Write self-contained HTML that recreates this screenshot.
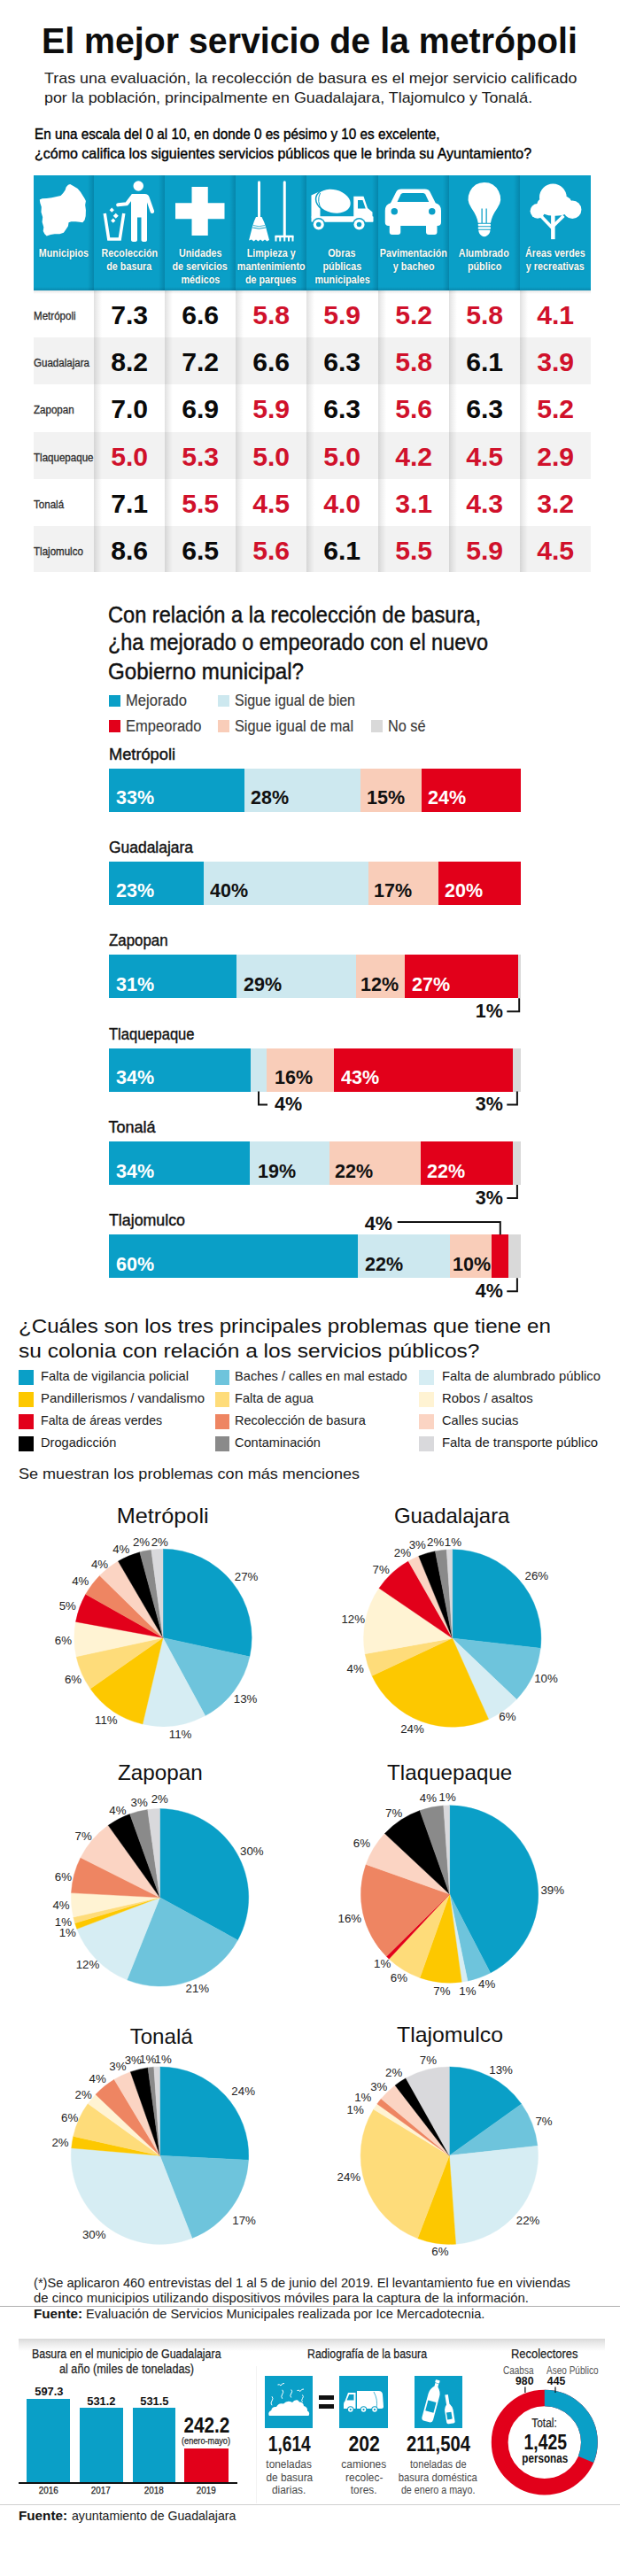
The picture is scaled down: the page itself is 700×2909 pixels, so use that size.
<!DOCTYPE html>
<html lang="es"><head><meta charset="utf-8"><title>El mejor servicio de la metrópoli</title>
<style>
html,body{margin:0;padding:0;background:#fff;}
body{width:700px;height:2909px;position:relative;overflow:hidden;font-family:"Liberation Sans",sans-serif;}
.t{position:absolute;white-space:nowrap;line-height:1;display:block;}
.r{position:absolute;}
svg{position:absolute;overflow:visible;}
</style></head><body>
<span class="t" style="left:47.00px;top:24px;font-size:40px;line-height:44px;color:#0d0d0d;font-weight:700;transform:scaleX(0.9822);transform-origin:0 0;">El mejor servicio de la metrópoli</span>
<span class="t" style="left:49.50px;top:79px;font-size:17px;line-height:19px;color:#1a1a1a;transform:scaleX(1.0513);transform-origin:0 0;">Tras una evaluación, la recolección de basura es el mejor servicio calificado</span>
<span class="t" style="left:49.50px;top:101px;font-size:17px;line-height:19px;color:#1a1a1a;transform:scaleX(1.0504);transform-origin:0 0;">por la población, principalmente en Guadalajara, Tlajomulco y Tonalá.</span>
<span class="t" style="left:39.00px;top:142px;font-size:17px;line-height:19px;color:#000;transform:scaleX(0.8982);transform-origin:0 0;-webkit-text-stroke:0.42px #000;">En una escala del 0 al 10, en donde 0 es pésimo y 10 es excelente,</span>
<span class="t" style="left:39.00px;top:164px;font-size:17px;line-height:19px;color:#000;transform:scaleX(0.9399);transform-origin:0 0;-webkit-text-stroke:0.42px #000;">¿cómo califica los siguientes servicios públicos que le brinda su Ayuntamiento?</span>
<div class="r" style="left:38.00px;top:198.00px;width:68.00px;height:129.50px;background:#0a9fc7;background:linear-gradient(to right,#0a9fc7 0,#0a9fc7 calc(100% - 7px),#0686ab 100%);"></div>
<div class="r" style="left:106.00px;top:198.00px;width:80.00px;height:129.50px;background:#0a9fc7;background:linear-gradient(to right,#0a9fc7 0,#0a9fc7 calc(100% - 7px),#0686ab 100%);"></div>
<div class="r" style="left:186.00px;top:198.00px;width:80.00px;height:129.50px;background:#0a9fc7;background:linear-gradient(to right,#0a9fc7 0,#0a9fc7 calc(100% - 7px),#0686ab 100%);"></div>
<div class="r" style="left:266.00px;top:198.00px;width:80.00px;height:129.50px;background:#0a9fc7;background:linear-gradient(to right,#0a9fc7 0,#0a9fc7 calc(100% - 7px),#0686ab 100%);"></div>
<div class="r" style="left:346.00px;top:198.00px;width:80.50px;height:129.50px;background:#0a9fc7;background:linear-gradient(to right,#0a9fc7 0,#0a9fc7 calc(100% - 7px),#0686ab 100%);"></div>
<div class="r" style="left:426.50px;top:198.00px;width:80.50px;height:129.50px;background:#0a9fc7;background:linear-gradient(to right,#0a9fc7 0,#0a9fc7 calc(100% - 7px),#0686ab 100%);"></div>
<div class="r" style="left:507.00px;top:198.00px;width:79.50px;height:129.50px;background:#0a9fc7;background:linear-gradient(to right,#0a9fc7 0,#0a9fc7 calc(100% - 7px),#0686ab 100%);"></div>
<div class="r" style="left:586.50px;top:198.00px;width:80.30px;height:129.50px;background:#0a9fc7;background:#0a9fc7;"></div>
<div class="r" style="left:38.00px;top:323.50px;width:628.80px;height:4.00px;background:transparent;background:linear-gradient(to bottom,rgba(0,60,90,0),rgba(0,60,90,.22));"></div>
<div class="r" style="left:38.00px;top:327.60px;width:628.80px;height:53.70px;background:#ffffff;"></div>
<div class="r" style="left:38.00px;top:381.30px;width:628.80px;height:53.20px;background:#f2f2f2;"></div>
<div class="r" style="left:38.00px;top:434.50px;width:628.80px;height:53.10px;background:#ffffff;"></div>
<div class="r" style="left:38.00px;top:487.60px;width:628.80px;height:53.20px;background:#f2f2f2;"></div>
<div class="r" style="left:38.00px;top:540.80px;width:628.80px;height:53.60px;background:#ffffff;"></div>
<div class="r" style="left:38.00px;top:594.40px;width:628.80px;height:52.00px;background:#f2f2f2;"></div>
<div class="r" style="left:106.00px;top:327.50px;width:9.00px;height:318.90px;background:transparent;background:linear-gradient(to right,rgba(0,0,0,.12),rgba(0,0,0,.07) 35%,rgba(0,0,0,0));"></div>
<div class="r" style="left:186.00px;top:327.50px;width:9.00px;height:318.90px;background:transparent;background:linear-gradient(to right,rgba(0,0,0,.12),rgba(0,0,0,.07) 35%,rgba(0,0,0,0));"></div>
<div class="r" style="left:266.00px;top:327.50px;width:9.00px;height:318.90px;background:transparent;background:linear-gradient(to right,rgba(0,0,0,.12),rgba(0,0,0,.07) 35%,rgba(0,0,0,0));"></div>
<div class="r" style="left:346.00px;top:327.50px;width:9.00px;height:318.90px;background:transparent;background:linear-gradient(to right,rgba(0,0,0,.12),rgba(0,0,0,.07) 35%,rgba(0,0,0,0));"></div>
<div class="r" style="left:426.50px;top:327.50px;width:9.00px;height:318.90px;background:transparent;background:linear-gradient(to right,rgba(0,0,0,.12),rgba(0,0,0,.07) 35%,rgba(0,0,0,0));"></div>
<div class="r" style="left:507.00px;top:327.50px;width:9.00px;height:318.90px;background:transparent;background:linear-gradient(to right,rgba(0,0,0,.12),rgba(0,0,0,.07) 35%,rgba(0,0,0,0));"></div>
<div class="r" style="left:586.50px;top:327.50px;width:9.00px;height:318.90px;background:transparent;background:linear-gradient(to right,rgba(0,0,0,.12),rgba(0,0,0,.07) 35%,rgba(0,0,0,0));"></div>
<div class="r" style="left:38.00px;top:327.50px;width:628.80px;height:4.00px;background:transparent;background:linear-gradient(to bottom,rgba(0,0,0,.10),rgba(0,0,0,0));"></div>
<span class="t" style="left:38.06px;top:278px;font-size:13px;line-height:15px;color:#fffdf5;font-weight:700;transform:scaleX(0.8300);transform-origin:50% 0;text-shadow:0 0 1.5px rgba(0,70,100,.55);">Municipios</span>
<span class="t" style="left:107.71px;top:278px;font-size:13px;line-height:15px;color:#fffdf5;font-weight:700;transform:scaleX(0.8300);transform-origin:50% 0;text-shadow:0 0 1.5px rgba(0,70,100,.55);">Recolección</span>
<span class="t" style="left:115.30px;top:293px;font-size:13px;line-height:15px;color:#fffdf5;font-weight:700;transform:scaleX(0.8300);transform-origin:50% 0;text-shadow:0 0 1.5px rgba(0,70,100,.55);">de basura</span>
<span class="t" style="left:196.75px;top:278px;font-size:13px;line-height:15px;color:#fffdf5;font-weight:700;transform:scaleX(0.8300);transform-origin:50% 0;text-shadow:0 0 1.5px rgba(0,70,100,.55);">Unidades</span>
<span class="t" style="left:188.42px;top:293px;font-size:13px;line-height:15px;color:#fffdf5;font-weight:700;transform:scaleX(0.8300);transform-origin:50% 0;text-shadow:0 0 1.5px rgba(0,70,100,.55);">de servicios</span>
<span class="t" style="left:199.63px;top:308px;font-size:13px;line-height:15px;color:#fffdf5;font-weight:700;transform:scaleX(0.8300);transform-origin:50% 0;text-shadow:0 0 1.5px rgba(0,70,100,.55);">médicos</span>
<span class="t" style="left:272.77px;top:278px;font-size:13px;line-height:15px;color:#fffdf5;font-weight:700;transform:scaleX(0.8300);transform-origin:50% 0;text-shadow:0 0 1.5px rgba(0,70,100,.55);">Limpieza y</span>
<span class="t" style="left:259.78px;top:293px;font-size:13px;line-height:15px;color:#fffdf5;font-weight:700;transform:scaleX(0.8300);transform-origin:50% 0;text-shadow:0 0 1.5px rgba(0,70,100,.55);">mantenimiento</span>
<span class="t" style="left:271.33px;top:308px;font-size:13px;line-height:15px;color:#fffdf5;font-weight:700;transform:scaleX(0.8300);transform-origin:50% 0;text-shadow:0 0 1.5px rgba(0,70,100,.55);">de parques</span>
<span class="t" style="left:367.46px;top:278px;font-size:13px;line-height:15px;color:#fffdf5;font-weight:700;transform:scaleX(0.8300);transform-origin:50% 0;text-shadow:0 0 1.5px rgba(0,70,100,.55);">Obras</span>
<span class="t" style="left:359.88px;top:293px;font-size:13px;line-height:15px;color:#fffdf5;font-weight:700;transform:scaleX(0.8300);transform-origin:50% 0;text-shadow:0 0 1.5px rgba(0,70,100,.55);">públicas</span>
<span class="t" style="left:348.68px;top:308px;font-size:13px;line-height:15px;color:#fffdf5;font-weight:700;transform:scaleX(0.8300);transform-origin:50% 0;text-shadow:0 0 1.5px rgba(0,70,100,.55);">municipales</span>
<span class="t" style="left:420.88px;top:278px;font-size:13px;line-height:15px;color:#fffdf5;font-weight:700;transform:scaleX(0.8300);transform-origin:50% 0;text-shadow:0 0 1.5px rgba(0,70,100,.55);">Pavimentación</span>
<span class="t" style="left:438.58px;top:293px;font-size:13px;line-height:15px;color:#fffdf5;font-weight:700;transform:scaleX(0.8300);transform-origin:50% 0;text-shadow:0 0 1.5px rgba(0,70,100,.55);">y bacheo</span>
<span class="t" style="left:512.45px;top:278px;font-size:13px;line-height:15px;color:#fffdf5;font-weight:700;transform:scaleX(0.8300);transform-origin:50% 0;text-shadow:0 0 1.5px rgba(0,70,100,.55);">Alumbrado</span>
<span class="t" style="left:523.64px;top:293px;font-size:13px;line-height:15px;color:#fffdf5;font-weight:700;transform:scaleX(0.8300);transform-origin:50% 0;text-shadow:0 0 1.5px rgba(0,70,100,.55);">público</span>
<span class="t" style="left:585.82px;top:278px;font-size:13px;line-height:15px;color:#fffdf5;font-weight:700;transform:scaleX(0.8300);transform-origin:50% 0;text-shadow:0 0 1.5px rgba(0,70,100,.55);">Áreas verdes</span>
<span class="t" style="left:586.90px;top:293px;font-size:13px;line-height:15px;color:#fffdf5;font-weight:700;transform:scaleX(0.8300);transform-origin:50% 0;text-shadow:0 0 1.5px rgba(0,70,100,.55);">y recreativas</span>
<span class="t" style="left:38.00px;top:350px;font-size:12.5px;line-height:14px;color:#2a2a2a;transform:scaleX(0.9250);transform-origin:0 0;-webkit-text-stroke:0.3px #2a2a2a;">Metrópoli</span>
<span class="t" style="left:125.84px;top:340px;font-size:29px;line-height:32px;color:#0a0a0a;font-weight:700;transform:scaleX(1.0400);transform-origin:50% 0;">7.3</span>
<span class="t" style="left:205.84px;top:340px;font-size:29px;line-height:32px;color:#0a0a0a;font-weight:700;transform:scaleX(1.0400);transform-origin:50% 0;">6.6</span>
<span class="t" style="left:285.85px;top:340px;font-size:29px;line-height:32px;color:#d0112b;font-weight:700;transform:scaleX(1.0400);transform-origin:50% 0;">5.8</span>
<span class="t" style="left:366.10px;top:340px;font-size:29px;line-height:32px;color:#d0112b;font-weight:700;transform:scaleX(1.0400);transform-origin:50% 0;">5.9</span>
<span class="t" style="left:446.60px;top:340px;font-size:29px;line-height:32px;color:#d0112b;font-weight:700;transform:scaleX(1.0400);transform-origin:50% 0;">5.2</span>
<span class="t" style="left:526.60px;top:340px;font-size:29px;line-height:32px;color:#d0112b;font-weight:700;transform:scaleX(1.0400);transform-origin:50% 0;">5.8</span>
<span class="t" style="left:606.50px;top:340px;font-size:29px;line-height:32px;color:#d0112b;font-weight:700;transform:scaleX(1.0400);transform-origin:50% 0;">4.1</span>
<span class="t" style="left:38.00px;top:403px;font-size:12.5px;line-height:14px;color:#2a2a2a;transform:scaleX(0.9250);transform-origin:0 0;-webkit-text-stroke:0.3px #2a2a2a;">Guadalajara</span>
<span class="t" style="left:125.84px;top:393px;font-size:29px;line-height:32px;color:#0a0a0a;font-weight:700;transform:scaleX(1.0400);transform-origin:50% 0;">8.2</span>
<span class="t" style="left:205.84px;top:393px;font-size:29px;line-height:32px;color:#0a0a0a;font-weight:700;transform:scaleX(1.0400);transform-origin:50% 0;">7.2</span>
<span class="t" style="left:285.85px;top:393px;font-size:29px;line-height:32px;color:#0a0a0a;font-weight:700;transform:scaleX(1.0400);transform-origin:50% 0;">6.6</span>
<span class="t" style="left:366.10px;top:393px;font-size:29px;line-height:32px;color:#0a0a0a;font-weight:700;transform:scaleX(1.0400);transform-origin:50% 0;">6.3</span>
<span class="t" style="left:446.60px;top:393px;font-size:29px;line-height:32px;color:#d0112b;font-weight:700;transform:scaleX(1.0400);transform-origin:50% 0;">5.8</span>
<span class="t" style="left:526.60px;top:393px;font-size:29px;line-height:32px;color:#0a0a0a;font-weight:700;transform:scaleX(1.0400);transform-origin:50% 0;">6.1</span>
<span class="t" style="left:606.50px;top:393px;font-size:29px;line-height:32px;color:#d0112b;font-weight:700;transform:scaleX(1.0400);transform-origin:50% 0;">3.9</span>
<span class="t" style="left:38.00px;top:456px;font-size:12.5px;line-height:14px;color:#2a2a2a;transform:scaleX(0.9250);transform-origin:0 0;-webkit-text-stroke:0.3px #2a2a2a;">Zapopan</span>
<span class="t" style="left:125.84px;top:446px;font-size:29px;line-height:32px;color:#0a0a0a;font-weight:700;transform:scaleX(1.0400);transform-origin:50% 0;">7.0</span>
<span class="t" style="left:205.84px;top:446px;font-size:29px;line-height:32px;color:#0a0a0a;font-weight:700;transform:scaleX(1.0400);transform-origin:50% 0;">6.9</span>
<span class="t" style="left:285.85px;top:446px;font-size:29px;line-height:32px;color:#d0112b;font-weight:700;transform:scaleX(1.0400);transform-origin:50% 0;">5.9</span>
<span class="t" style="left:366.10px;top:446px;font-size:29px;line-height:32px;color:#0a0a0a;font-weight:700;transform:scaleX(1.0400);transform-origin:50% 0;">6.3</span>
<span class="t" style="left:446.60px;top:446px;font-size:29px;line-height:32px;color:#d0112b;font-weight:700;transform:scaleX(1.0400);transform-origin:50% 0;">5.6</span>
<span class="t" style="left:526.60px;top:446px;font-size:29px;line-height:32px;color:#0a0a0a;font-weight:700;transform:scaleX(1.0400);transform-origin:50% 0;">6.3</span>
<span class="t" style="left:606.50px;top:446px;font-size:29px;line-height:32px;color:#d0112b;font-weight:700;transform:scaleX(1.0400);transform-origin:50% 0;">5.2</span>
<span class="t" style="left:38.00px;top:510px;font-size:12.5px;line-height:14px;color:#2a2a2a;transform:scaleX(0.9250);transform-origin:0 0;-webkit-text-stroke:0.3px #2a2a2a;">Tlaquepaque</span>
<span class="t" style="left:125.84px;top:500px;font-size:29px;line-height:32px;color:#d0112b;font-weight:700;transform:scaleX(1.0400);transform-origin:50% 0;">5.0</span>
<span class="t" style="left:205.84px;top:500px;font-size:29px;line-height:32px;color:#d0112b;font-weight:700;transform:scaleX(1.0400);transform-origin:50% 0;">5.3</span>
<span class="t" style="left:285.85px;top:500px;font-size:29px;line-height:32px;color:#d0112b;font-weight:700;transform:scaleX(1.0400);transform-origin:50% 0;">5.0</span>
<span class="t" style="left:366.10px;top:500px;font-size:29px;line-height:32px;color:#d0112b;font-weight:700;transform:scaleX(1.0400);transform-origin:50% 0;">5.0</span>
<span class="t" style="left:446.60px;top:500px;font-size:29px;line-height:32px;color:#d0112b;font-weight:700;transform:scaleX(1.0400);transform-origin:50% 0;">4.2</span>
<span class="t" style="left:526.60px;top:500px;font-size:29px;line-height:32px;color:#d0112b;font-weight:700;transform:scaleX(1.0400);transform-origin:50% 0;">4.5</span>
<span class="t" style="left:606.50px;top:500px;font-size:29px;line-height:32px;color:#d0112b;font-weight:700;transform:scaleX(1.0400);transform-origin:50% 0;">2.9</span>
<span class="t" style="left:38.00px;top:563px;font-size:12.5px;line-height:14px;color:#2a2a2a;transform:scaleX(0.9250);transform-origin:0 0;-webkit-text-stroke:0.3px #2a2a2a;">Tonalá</span>
<span class="t" style="left:125.84px;top:553px;font-size:29px;line-height:32px;color:#0a0a0a;font-weight:700;transform:scaleX(1.0400);transform-origin:50% 0;">7.1</span>
<span class="t" style="left:205.84px;top:553px;font-size:29px;line-height:32px;color:#d0112b;font-weight:700;transform:scaleX(1.0400);transform-origin:50% 0;">5.5</span>
<span class="t" style="left:285.85px;top:553px;font-size:29px;line-height:32px;color:#d0112b;font-weight:700;transform:scaleX(1.0400);transform-origin:50% 0;">4.5</span>
<span class="t" style="left:366.10px;top:553px;font-size:29px;line-height:32px;color:#d0112b;font-weight:700;transform:scaleX(1.0400);transform-origin:50% 0;">4.0</span>
<span class="t" style="left:446.60px;top:553px;font-size:29px;line-height:32px;color:#d0112b;font-weight:700;transform:scaleX(1.0400);transform-origin:50% 0;">3.1</span>
<span class="t" style="left:526.60px;top:553px;font-size:29px;line-height:32px;color:#d0112b;font-weight:700;transform:scaleX(1.0400);transform-origin:50% 0;">4.3</span>
<span class="t" style="left:606.50px;top:553px;font-size:29px;line-height:32px;color:#d0112b;font-weight:700;transform:scaleX(1.0400);transform-origin:50% 0;">3.2</span>
<span class="t" style="left:38.00px;top:616px;font-size:12.5px;line-height:14px;color:#2a2a2a;transform:scaleX(0.9250);transform-origin:0 0;-webkit-text-stroke:0.3px #2a2a2a;">Tlajomulco</span>
<span class="t" style="left:125.84px;top:606px;font-size:29px;line-height:32px;color:#0a0a0a;font-weight:700;transform:scaleX(1.0400);transform-origin:50% 0;">8.6</span>
<span class="t" style="left:205.84px;top:606px;font-size:29px;line-height:32px;color:#0a0a0a;font-weight:700;transform:scaleX(1.0400);transform-origin:50% 0;">6.5</span>
<span class="t" style="left:285.85px;top:606px;font-size:29px;line-height:32px;color:#d0112b;font-weight:700;transform:scaleX(1.0400);transform-origin:50% 0;">5.6</span>
<span class="t" style="left:366.10px;top:606px;font-size:29px;line-height:32px;color:#0a0a0a;font-weight:700;transform:scaleX(1.0400);transform-origin:50% 0;">6.1</span>
<span class="t" style="left:446.60px;top:606px;font-size:29px;line-height:32px;color:#d0112b;font-weight:700;transform:scaleX(1.0400);transform-origin:50% 0;">5.5</span>
<span class="t" style="left:526.60px;top:606px;font-size:29px;line-height:32px;color:#d0112b;font-weight:700;transform:scaleX(1.0400);transform-origin:50% 0;">5.9</span>
<span class="t" style="left:606.50px;top:606px;font-size:29px;line-height:32px;color:#d0112b;font-weight:700;transform:scaleX(1.0400);transform-origin:50% 0;">4.5</span>
<svg style="left:0;top:0" width="700" height="2909" viewBox="0 0 700 2909"><g transform="translate(38,200) scale(0.11290322580645161)" fill="#fff" stroke="none"><polygon points="365,70 400,90 440,115 470,150 495,190 510,215 522,240 515,280 522,330 520,390 510,430 490,455 460,450 420,445 375,445 350,455 345,490 325,520 300,555 260,570 210,570 170,575 130,590 110,570 95,540 100,500 85,450 90,400 75,350 78,300 65,260 60,225 85,215 130,212 180,205 230,195 270,185 295,160 315,130 325,100 345,78"/></g></svg>
<svg style="left:0;top:0" width="700" height="2909" viewBox="0 0 700 2909"><g transform="translate(36,198) scale(0.25)" fill="#fff" stroke="none"><circle cx="481" cy="48" r="23"/>
<path d="M452,84 H510 Q526,84 530,98 L552,160 Q554,170 546,172 Q538,174 535,166 L520,122 V292 Q520,300 508,300 Q494,300 494,292 V190 H476 V292 Q476,300 462,300 Q448,300 448,292 V96 Q448,84 452,84 Z"/>
<path d="M453,96 L428,129 L389,133" fill="none" stroke="#fff" stroke-width="17" stroke-linecap="round" stroke-linejoin="round"/>
<path d="M329,172 L347,288 H397 L415,172" fill="none" stroke="#fff" stroke-width="14" stroke-linejoin="miter"/>
<rect x="354" y="149" width="15" height="15" transform="rotate(45 361 156)"/>
<rect x="371" y="174" width="17" height="17" transform="rotate(45 379 182)"/>
<rect x="360" y="197" width="15" height="15" transform="rotate(45 367 204)"/></g></svg>
<svg style="left:0;top:0" width="700" height="2909" viewBox="0 0 700 2909"><g transform="translate(186,198) scale(0.25)" fill="#fff" stroke="none"><rect x="48" y="125" width="222" height="72"/><rect x="122" y="52" width="73" height="220"/></g></svg>
<svg style="left:0;top:0" width="700" height="2909" viewBox="0 0 700 2909"><g transform="translate(186,198) scale(0.25)" fill="#fff" stroke="none"><rect x="420" y="25" width="12" height="170" rx="6"/>
<path d="M412,188 H438 Q452,215 458,240 L472,292 L462,298 L452,290 L442,298 L432,290 L422,298 L412,290 L402,298 L392,290 L380,294 L394,240 Q400,212 412,188 Z"/>
<path d="M397,236 Q425,246 456,236" fill="none" stroke="#0a9fc7" stroke-width="4"/>
<path d="M399,226 Q425,236 453,226" fill="none" stroke="#0a9fc7" stroke-width="3"/>
<rect x="535" y="25" width="12" height="252" rx="6"/>
<rect x="498" y="271" width="84" height="10"/>
<rect x="498" y="275" width="8" height="23"/><rect x="517" y="275" width="8" height="23"/><rect x="537" y="275" width="8" height="23"/><rect x="556" y="275" width="8" height="23"/><rect x="574" y="275" width="8" height="23"/></g></svg>
<svg style="left:0;top:0" width="700" height="2909" viewBox="0 0 700 2909"><g transform="translate(346,198) scale(0.25)" fill="#fff" stroke="none"><polygon points="22,90 62,72 62,190 22,190"/>
<rect x="22" y="185" width="280" height="26" rx="3"/>
<path d="M213,95 H258 L276,148 L298,166 V196 H213 Z"/>
<path d="M232,112 H254 L267,150 H232 Z" fill="#0a9fc7"/>
<ellipse cx="122" cy="117" rx="84" ry="58" transform="rotate(13 122 117)" fill="#0a9fc7"/>
<ellipse cx="122" cy="117" rx="78" ry="52" transform="rotate(13 122 117)"/>
<path d="M62,80 Q44,118 70,156" fill="none" stroke="#0a9fc7" stroke-width="4"/>
<circle cx="55" cy="222" r="30" fill="#0a9fc7"/><circle cx="55" cy="222" r="24"/><circle cx="55" cy="222" r="11" fill="#0a9fc7"/>
<circle cx="238" cy="222" r="30" fill="#0a9fc7"/><circle cx="238" cy="222" r="24"/><circle cx="238" cy="222" r="11" fill="#0a9fc7"/></g></svg>
<svg style="left:0;top:0" width="700" height="2909" viewBox="0 0 700 2909"><g transform="translate(346,198) scale(0.25)" fill="#fff" stroke="none"><path d="M380,125 L405,75 Q412,62 428,62 H535 Q551,62 558,75 L583,125 Q608,132 608,160 V212 Q608,228 592,228 H371 Q355,228 355,212 V160 Q355,132 380,125 Z"/>
<path d="M410,120 L426,86 Q429,80 436,80 H527 Q534,80 537,86 L553,120 Z" fill="#0a9fc7"/>
<circle cx="397" cy="163" r="15" fill="#0a9fc7"/><circle cx="567" cy="163" r="15" fill="#0a9fc7"/>
<rect x="375" y="215" width="50" height="53" rx="12"/><rect x="540" y="215" width="50" height="53" rx="12"/></g></svg>
<svg style="left:0;top:0" width="700" height="2909" viewBox="0 0 700 2909"><g transform="translate(506,198) scale(0.25)" fill="#fff" stroke="none"><path d="M163,32 A73,73 0 0 1 222,148 Q196,185 192,215 H135 Q131,185 105,148 A73,73 0 0 1 163,32 Z"/>
<rect x="135" y="219" width="57" height="10" rx="3"/><rect x="135" y="233" width="57" height="10" rx="3"/>
<path d="M137,247 H190 Q190,262 176,272 Q163,282 150,272 Q137,262 137,247 Z"/>
<rect x="150" y="150" width="5" height="66" fill="#0a9fc7"/><rect x="170" y="150" width="5" height="66" fill="#0a9fc7"/></g></svg>
<svg style="left:0;top:0" width="700" height="2909" viewBox="0 0 700 2909"><g transform="translate(560,190) scale(0.22580645161290322)" fill="#fff" stroke="none"><circle cx="285" cy="146" r="68"/><circle cx="208" cy="214" r="37"/><circle cx="382" cy="207" r="45"/>
<ellipse cx="295" cy="200" rx="85" ry="38"/><circle cx="238" cy="183" r="34"/><circle cx="342" cy="178" r="38"/>
<rect x="275" y="225" width="20" height="130"/>
<path d="M285,302 L226,240" stroke="#fff" stroke-width="16" fill="none"/><path d="M285,290 L338,238" stroke="#fff" stroke-width="16" fill="none"/></g></svg>
<span class="t" style="left:121.50px;top:680px;font-size:25.5px;line-height:28px;color:#111;transform:scaleX(0.9253);transform-origin:0 0;-webkit-text-stroke:0.45px #111;">Con relación a la recolección de basura,</span>
<span class="t" style="left:121.50px;top:711px;font-size:25.5px;line-height:28px;color:#111;transform:scaleX(0.9199);transform-origin:0 0;-webkit-text-stroke:0.45px #111;">¿ha mejorado o empeorado con el nuevo</span>
<span class="t" style="left:121.50px;top:744px;font-size:25.5px;line-height:28px;color:#111;transform:scaleX(0.9450);transform-origin:0 0;-webkit-text-stroke:0.45px #111;">Gobierno municipal?</span>
<div class="r" style="left:122.50px;top:784.50px;width:13.00px;height:13.60px;background:#0a9fc7;"></div>
<span class="t" style="left:142.30px;top:781px;font-size:18px;line-height:20px;color:#3a3a3a;transform:scaleX(0.9196);transform-origin:0 0;-webkit-text-stroke:0.15px #3a3a3a;">Mejorado</span>
<div class="r" style="left:245.50px;top:784.50px;width:13.00px;height:13.60px;background:#cde8ef;"></div>
<span class="t" style="left:264.50px;top:781px;font-size:18px;line-height:20px;color:#3a3a3a;transform:scaleX(0.8882);transform-origin:0 0;-webkit-text-stroke:0.15px #3a3a3a;">Sigue igual de bien</span>
<div class="r" style="left:122.50px;top:813.00px;width:13.00px;height:13.60px;background:#e2001a;"></div>
<span class="t" style="left:142.30px;top:810px;font-size:18px;line-height:20px;color:#3a3a3a;transform:scaleX(0.9188);transform-origin:0 0;-webkit-text-stroke:0.15px #3a3a3a;">Empeorado</span>
<div class="r" style="left:245.50px;top:813.00px;width:13.00px;height:13.60px;background:#f9cdb9;"></div>
<span class="t" style="left:264.50px;top:810px;font-size:18px;line-height:20px;color:#3a3a3a;transform:scaleX(0.9049);transform-origin:0 0;-webkit-text-stroke:0.15px #3a3a3a;">Sigue igual de mal</span>
<div class="r" style="left:418.50px;top:813.00px;width:13.00px;height:13.60px;background:#d9d9d9;"></div>
<span class="t" style="left:438.00px;top:810px;font-size:18px;line-height:20px;color:#3a3a3a;transform:scaleX(0.9039);transform-origin:0 0;-webkit-text-stroke:0.15px #3a3a3a;">No sé</span>
<span class="t" style="left:122.50px;top:842px;font-size:18px;line-height:20px;color:#111;transform:scaleX(1.0132);transform-origin:0 0;-webkit-text-stroke:0.4px #111;">Metrópoli</span>
<div class="r" style="left:122.70px;top:867.50px;width:153.50px;height:49.00px;background:#0a9fc7;"></div>
<div class="r" style="left:275.90px;top:867.50px;width:130.90px;height:49.00px;background:#cde8ef;"></div>
<div class="r" style="left:406.50px;top:867.50px;width:70.10px;height:49.00px;background:#f9cdb9;"></div>
<div class="r" style="left:476.30px;top:867.50px;width:112.00px;height:49.00px;background:#e2001a;"></div>
<span class="t" style="left:130.80px;top:889px;font-size:21.3px;line-height:24px;color:#fff;font-weight:700;transform:scaleX(1.0100);transform-origin:0 0;">33%</span>
<span class="t" style="left:283.20px;top:889px;font-size:21.3px;line-height:24px;color:#111;font-weight:700;transform:scaleX(1.0100);transform-origin:0 0;">28%</span>
<span class="t" style="left:414.20px;top:889px;font-size:21.3px;line-height:24px;color:#111;font-weight:700;transform:scaleX(1.0100);transform-origin:0 0;">15%</span>
<span class="t" style="left:483.40px;top:889px;font-size:21.3px;line-height:24px;color:#fff;font-weight:700;transform:scaleX(1.0100);transform-origin:0 0;">24%</span>
<span class="t" style="left:122.50px;top:947px;font-size:18px;line-height:20px;color:#111;transform:scaleX(0.9688);transform-origin:0 0;-webkit-text-stroke:0.4px #111;">Guadalajara</span>
<div class="r" style="left:122.70px;top:972.85px;width:107.30px;height:49.00px;background:#0a9fc7;"></div>
<div class="r" style="left:229.70px;top:972.85px;width:186.40px;height:49.00px;background:#cde8ef;"></div>
<div class="r" style="left:415.80px;top:972.85px;width:79.40px;height:49.00px;background:#f9cdb9;"></div>
<div class="r" style="left:494.90px;top:972.85px;width:93.40px;height:49.00px;background:#e2001a;"></div>
<span class="t" style="left:130.80px;top:994px;font-size:21.3px;line-height:24px;color:#fff;font-weight:700;transform:scaleX(1.0100);transform-origin:0 0;">23%</span>
<span class="t" style="left:237.30px;top:994px;font-size:21.3px;line-height:24px;color:#111;font-weight:700;transform:scaleX(1.0100);transform-origin:0 0;">40%</span>
<span class="t" style="left:422.00px;top:994px;font-size:21.3px;line-height:24px;color:#111;font-weight:700;transform:scaleX(1.0100);transform-origin:0 0;">17%</span>
<span class="t" style="left:501.80px;top:994px;font-size:21.3px;line-height:24px;color:#fff;font-weight:700;transform:scaleX(1.0100);transform-origin:0 0;">20%</span>
<span class="t" style="left:122.50px;top:1052px;font-size:18px;line-height:20px;color:#111;transform:scaleX(0.9359);transform-origin:0 0;-webkit-text-stroke:0.4px #111;">Zapopan</span>
<div class="r" style="left:122.70px;top:1078.20px;width:144.50px;height:49.00px;background:#0a9fc7;"></div>
<div class="r" style="left:266.90px;top:1078.20px;width:135.30px;height:49.00px;background:#cde8ef;"></div>
<div class="r" style="left:401.90px;top:1078.20px;width:55.40px;height:49.00px;background:#f9cdb9;"></div>
<div class="r" style="left:457.00px;top:1078.20px;width:128.50px;height:49.00px;background:#e2001a;"></div>
<div class="r" style="left:585.20px;top:1078.20px;width:3.10px;height:49.00px;background:#d9d9d9;"></div>
<span class="t" style="left:130.80px;top:1100px;font-size:21.3px;line-height:24px;color:#fff;font-weight:700;transform:scaleX(1.0100);transform-origin:0 0;">31%</span>
<span class="t" style="left:274.50px;top:1100px;font-size:21.3px;line-height:24px;color:#111;font-weight:700;transform:scaleX(1.0100);transform-origin:0 0;">29%</span>
<span class="t" style="left:407.40px;top:1100px;font-size:21.3px;line-height:24px;color:#111;font-weight:700;transform:scaleX(1.0100);transform-origin:0 0;">12%</span>
<span class="t" style="left:465.00px;top:1100px;font-size:21.3px;line-height:24px;color:#fff;font-weight:700;transform:scaleX(1.0100);transform-origin:0 0;">27%</span>
<span class="t" style="left:122.50px;top:1158px;font-size:18px;line-height:20px;color:#111;transform:scaleX(0.9183);transform-origin:0 0;-webkit-text-stroke:0.4px #111;">Tlaquepaque</span>
<div class="r" style="left:122.70px;top:1183.55px;width:160.50px;height:49.00px;background:#0a9fc7;"></div>
<div class="r" style="left:282.90px;top:1183.55px;width:18.20px;height:49.00px;background:#cde8ef;"></div>
<div class="r" style="left:300.80px;top:1183.55px;width:76.20px;height:49.00px;background:#f9cdb9;"></div>
<div class="r" style="left:376.70px;top:1183.55px;width:202.90px;height:49.00px;background:#e2001a;"></div>
<div class="r" style="left:579.30px;top:1183.55px;width:9.00px;height:49.00px;background:#d9d9d9;"></div>
<span class="t" style="left:130.80px;top:1205px;font-size:21.3px;line-height:24px;color:#fff;font-weight:700;transform:scaleX(1.0100);transform-origin:0 0;">34%</span>
<span class="t" style="left:309.80px;top:1205px;font-size:21.3px;line-height:24px;color:#111;font-weight:700;transform:scaleX(1.0100);transform-origin:0 0;">16%</span>
<span class="t" style="left:385.20px;top:1205px;font-size:21.3px;line-height:24px;color:#fff;font-weight:700;transform:scaleX(1.0100);transform-origin:0 0;">43%</span>
<span class="t" style="left:122.50px;top:1263px;font-size:18px;line-height:20px;color:#111;-webkit-text-stroke:0.4px #111;">Tonalá</span>
<div class="r" style="left:122.70px;top:1288.90px;width:160.00px;height:49.00px;background:#0a9fc7;"></div>
<div class="r" style="left:282.40px;top:1288.90px;width:89.80px;height:49.00px;background:#cde8ef;"></div>
<div class="r" style="left:371.90px;top:1288.90px;width:103.70px;height:49.00px;background:#f9cdb9;"></div>
<div class="r" style="left:475.30px;top:1288.90px;width:104.30px;height:49.00px;background:#e2001a;"></div>
<div class="r" style="left:579.30px;top:1288.90px;width:9.00px;height:49.00px;background:#d9d9d9;"></div>
<span class="t" style="left:130.80px;top:1311px;font-size:21.3px;line-height:24px;color:#fff;font-weight:700;transform:scaleX(1.0100);transform-origin:0 0;">34%</span>
<span class="t" style="left:291.40px;top:1311px;font-size:21.3px;line-height:24px;color:#111;font-weight:700;transform:scaleX(1.0100);transform-origin:0 0;">19%</span>
<span class="t" style="left:378.40px;top:1311px;font-size:21.3px;line-height:24px;color:#111;font-weight:700;transform:scaleX(1.0100);transform-origin:0 0;">22%</span>
<span class="t" style="left:482.40px;top:1311px;font-size:21.3px;line-height:24px;color:#fff;font-weight:700;transform:scaleX(1.0100);transform-origin:0 0;">22%</span>
<span class="t" style="left:122.50px;top:1368px;font-size:18px;line-height:20px;color:#111;transform:scaleX(0.9882);transform-origin:0 0;-webkit-text-stroke:0.4px #111;">Tlajomulco</span>
<div class="r" style="left:122.70px;top:1394.25px;width:281.80px;height:49.00px;background:#0a9fc7;"></div>
<div class="r" style="left:404.20px;top:1394.25px;width:104.30px;height:49.00px;background:#cde8ef;"></div>
<div class="r" style="left:508.20px;top:1394.25px;width:47.20px;height:49.00px;background:#f9cdb9;"></div>
<div class="r" style="left:555.10px;top:1394.25px;width:18.70px;height:49.00px;background:#e2001a;"></div>
<div class="r" style="left:573.50px;top:1394.25px;width:14.80px;height:49.00px;background:#d9d9d9;"></div>
<span class="t" style="left:130.80px;top:1416px;font-size:21.3px;line-height:24px;color:#fff;font-weight:700;transform:scaleX(1.0100);transform-origin:0 0;">60%</span>
<span class="t" style="left:412.30px;top:1416px;font-size:21.3px;line-height:24px;color:#111;font-weight:700;transform:scaleX(1.0100);transform-origin:0 0;">22%</span>
<span class="t" style="left:511.00px;top:1416px;font-size:21.3px;line-height:24px;color:#111;font-weight:700;transform:scaleX(1.0100);transform-origin:0 0;">10%</span>
<svg style="left:0;top:0" width="700" height="2909"><path d="M586.2,1127.2 L586.2,1142.2 L572.3,1142.2" fill="none" stroke="#111" stroke-width="2.0"/></svg>
<span class="t" style="left:536.71px;top:1130px;font-size:21.3px;line-height:24px;color:#111;font-weight:700;transform:scaleX(1.0100);transform-origin:100% 0;">1%</span>
<svg style="left:0;top:0" width="700" height="2909"><path d="M583.9,1232.5 L583.9,1247.5 L572.3,1247.5" fill="none" stroke="#111" stroke-width="2.0"/></svg>
<span class="t" style="left:536.71px;top:1235px;font-size:21.3px;line-height:24px;color:#111;font-weight:700;transform:scaleX(1.0100);transform-origin:100% 0;">3%</span>
<svg style="left:0;top:0" width="700" height="2909"><path d="M583.9,1337.9 L583.9,1352.9 L572.3,1352.9" fill="none" stroke="#111" stroke-width="2.0"/></svg>
<span class="t" style="left:536.71px;top:1341px;font-size:21.3px;line-height:24px;color:#111;font-weight:700;transform:scaleX(1.0100);transform-origin:100% 0;">3%</span>
<svg style="left:0;top:0" width="700" height="2909"><path d="M583.9,1443.2 L583.9,1458.2 L572.3,1458.2" fill="none" stroke="#111" stroke-width="2.0"/></svg>
<span class="t" style="left:536.71px;top:1446px;font-size:21.3px;line-height:24px;color:#111;font-weight:700;transform:scaleX(1.0100);transform-origin:100% 0;">4%</span>
<svg style="left:0;top:0" width="700" height="2909"><path d="M292.0,1232.5 L292.0,1247.5 L302.0,1247.5" fill="none" stroke="#111" stroke-width="2.0"/></svg>
<span class="t" style="left:309.80px;top:1235px;font-size:21.3px;line-height:24px;color:#111;font-weight:700;transform:scaleX(1.0100);transform-origin:0 0;">4%</span>
<svg style="left:0;top:0" width="700" height="2909"><path d="M448.7,1380.0 L564.8,1380.0 L564.8,1394.2" fill="none" stroke="#111" stroke-width="2.0"/></svg>
<span class="t" style="left:412.21px;top:1370px;font-size:21.3px;line-height:24px;color:#111;font-weight:700;transform:scaleX(1.0100);transform-origin:100% 0;">4%</span>
<span class="t" style="left:20.50px;top:1484px;font-size:22.8px;line-height:26px;color:#111;transform:scaleX(1.0586);transform-origin:0 0;">¿Cuáles son los tres principales problemas que tiene en</span>
<span class="t" style="left:20.50px;top:1512px;font-size:22.8px;line-height:26px;color:#111;transform:scaleX(1.0752);transform-origin:0 0;">su colonia con relación a los servicios públicos?</span>
<div class="r" style="left:21.20px;top:1547.00px;width:16.80px;height:16.70px;background:#0a9fc7;"></div>
<span class="t" style="left:45.70px;top:1546px;font-size:14.4px;line-height:16px;color:#1a1a1a;transform:scaleX(1.0228);transform-origin:0 0;">Falta de vigilancia policial</span>
<div class="r" style="left:242.60px;top:1547.00px;width:16.80px;height:16.70px;background:#6ec4dc;"></div>
<span class="t" style="left:265.20px;top:1546px;font-size:14.4px;line-height:16px;color:#1a1a1a;transform:scaleX(1.0178);transform-origin:0 0;">Baches / calles en mal estado</span>
<div class="r" style="left:473.10px;top:1547.00px;width:16.80px;height:16.70px;background:#d6edf3;"></div>
<span class="t" style="left:499.40px;top:1546px;font-size:14.4px;line-height:16px;color:#1a1a1a;transform:scaleX(1.0306);transform-origin:0 0;">Falta de alumbrado público</span>
<div class="r" style="left:21.20px;top:1572.00px;width:16.80px;height:16.70px;background:#fdc800;"></div>
<span class="t" style="left:45.70px;top:1571px;font-size:14.4px;line-height:16px;color:#1a1a1a;transform:scaleX(1.0377);transform-origin:0 0;">Pandillerismos / vandalismo</span>
<div class="r" style="left:242.60px;top:1572.00px;width:16.80px;height:16.70px;background:#fedc7a;"></div>
<span class="t" style="left:265.20px;top:1571px;font-size:14.4px;line-height:16px;color:#1a1a1a;transform:scaleX(1.0107);transform-origin:0 0;">Falta de agua</span>
<div class="r" style="left:473.10px;top:1572.00px;width:16.80px;height:16.70px;background:#fff3d3;"></div>
<span class="t" style="left:499.40px;top:1571px;font-size:14.4px;line-height:16px;color:#1a1a1a;transform:scaleX(1.0358);transform-origin:0 0;">Robos / asaltos</span>
<div class="r" style="left:21.20px;top:1597.00px;width:16.80px;height:16.70px;background:#e2001a;"></div>
<span class="t" style="left:45.70px;top:1596px;font-size:14.4px;line-height:16px;color:#1a1a1a;transform:scaleX(0.9852);transform-origin:0 0;">Falta de áreas verdes</span>
<div class="r" style="left:242.60px;top:1597.00px;width:16.80px;height:16.70px;background:#ee8562;"></div>
<span class="t" style="left:265.20px;top:1596px;font-size:14.4px;line-height:16px;color:#1a1a1a;transform:scaleX(1.0090);transform-origin:0 0;">Recolección de basura</span>
<div class="r" style="left:473.10px;top:1597.00px;width:16.80px;height:16.70px;background:#fbd4c3;"></div>
<span class="t" style="left:499.40px;top:1596px;font-size:14.4px;line-height:16px;color:#1a1a1a;transform:scaleX(1.0185);transform-origin:0 0;">Calles sucias</span>
<div class="r" style="left:21.20px;top:1622.00px;width:16.80px;height:16.70px;background:#000000;"></div>
<span class="t" style="left:45.70px;top:1621px;font-size:14.4px;line-height:16px;color:#1a1a1a;transform:scaleX(1.0150);transform-origin:0 0;">Drogadicción</span>
<div class="r" style="left:242.60px;top:1622.00px;width:16.80px;height:16.70px;background:#8a8a8a;"></div>
<span class="t" style="left:265.20px;top:1621px;font-size:14.4px;line-height:16px;color:#1a1a1a;transform:scaleX(1.0099);transform-origin:0 0;">Contaminación</span>
<div class="r" style="left:473.10px;top:1622.00px;width:16.80px;height:16.70px;background:#d9d9dc;"></div>
<span class="t" style="left:499.40px;top:1621px;font-size:14.4px;line-height:16px;color:#1a1a1a;transform:scaleX(1.0335);transform-origin:0 0;">Falta de transporte público</span>
<span class="t" style="left:20.50px;top:1655px;font-size:16.5px;line-height:18px;color:#1a1a1a;transform:scaleX(1.0933);transform-origin:0 0;">Se muestran los problemas con más menciones</span>
<svg style="left:0;top:0" width="700" height="2909"><path d="M184.00,1849.50 L184.00,1749.30 A100.2,100.2 0 0 1 281.89,1870.87 Z" fill="#0a9fc7" stroke="#0a9fc7" stroke-width="0.4"/><path d="M184.00,1849.50 L281.89,1870.87 A100.2,100.2 0 0 1 231.69,1937.62 Z" fill="#6ec4dc" stroke="#6ec4dc" stroke-width="0.4"/><path d="M184.00,1849.50 L231.69,1937.62 A100.2,100.2 0 0 1 161.01,1947.03 Z" fill="#d6edf3" stroke="#d6edf3" stroke-width="0.4"/><path d="M184.00,1849.50 L161.01,1947.03 A100.2,100.2 0 0 1 101.97,1907.05 Z" fill="#fdc800" stroke="#fdc800" stroke-width="0.4"/><path d="M184.00,1849.50 L101.97,1907.05 A100.2,100.2 0 0 1 86.11,1870.87 Z" fill="#fedc7a" stroke="#fedc7a" stroke-width="0.4"/><path d="M184.00,1849.50 L86.11,1870.87 A100.2,100.2 0 0 1 85.45,1831.38 Z" fill="#fff3d3" stroke="#fff3d3" stroke-width="0.4"/><path d="M184.00,1849.50 L85.45,1831.38 A100.2,100.2 0 0 1 96.68,1800.36 Z" fill="#e2001a" stroke="#e2001a" stroke-width="0.4"/><path d="M184.00,1849.50 L96.68,1800.36 A100.2,100.2 0 0 1 112.56,1779.24 Z" fill="#ee8562" stroke="#ee8562" stroke-width="0.4"/><path d="M184.00,1849.50 L112.56,1779.24 A100.2,100.2 0 0 1 133.42,1763.00 Z" fill="#fbd4c3" stroke="#fbd4c3" stroke-width="0.4"/><path d="M184.00,1849.50 L133.42,1763.00 A100.2,100.2 0 0 1 157.80,1752.79 Z" fill="#000000" stroke="#000000" stroke-width="0.4"/><path d="M184.00,1849.50 L157.80,1752.79 A100.2,100.2 0 0 1 170.78,1750.18 Z" fill="#8a8a8a" stroke="#8a8a8a" stroke-width="0.4"/><path d="M184.00,1849.50 L170.78,1750.18 A100.2,100.2 0 0 1 184.00,1749.30 Z" fill="#d9d9dc" stroke="#d9d9dc" stroke-width="0.4"/></svg>
<span class="t" style="left:136.00px;top:1699px;font-size:23.2px;line-height:26px;color:#111;transform:scaleX(1.0900);transform-origin:50% 0;">Metrópoli</span>
<svg style="left:0;top:0" width="700" height="2909"><path d="M510.70,1850.00 L510.70,1749.80 A100.2,100.2 0 0 1 610.26,1861.33 Z" fill="#0a9fc7" stroke="#0a9fc7" stroke-width="0.4"/><path d="M510.70,1850.00 L610.26,1861.33 A100.2,100.2 0 0 1 583.25,1919.11 Z" fill="#6ec4dc" stroke="#6ec4dc" stroke-width="0.4"/><path d="M510.70,1850.00 L583.25,1919.11 A100.2,100.2 0 0 1 551.65,1941.45 Z" fill="#d6edf3" stroke="#d6edf3" stroke-width="0.4"/><path d="M510.70,1850.00 L551.65,1941.45 A100.2,100.2 0 0 1 419.93,1892.43 Z" fill="#fdc800" stroke="#fdc800" stroke-width="0.4"/><path d="M510.70,1850.00 L419.93,1892.43 A100.2,100.2 0 0 1 412.09,1867.75 Z" fill="#fedc7a" stroke="#fedc7a" stroke-width="0.4"/><path d="M510.70,1850.00 L412.09,1867.75 A100.2,100.2 0 0 1 427.95,1793.49 Z" fill="#fff3d3" stroke="#fff3d3" stroke-width="0.4"/><path d="M510.70,1850.00 L427.95,1793.49 A100.2,100.2 0 0 1 461.07,1762.96 Z" fill="#e2001a" stroke="#e2001a" stroke-width="0.4"/><path d="M510.70,1850.00 L461.07,1762.96 A100.2,100.2 0 0 1 472.73,1757.27 Z" fill="#fbd4c3" stroke="#fbd4c3" stroke-width="0.4"/><path d="M510.70,1850.00 L472.73,1757.27 A100.2,100.2 0 0 1 491.35,1751.69 Z" fill="#000000" stroke="#000000" stroke-width="0.4"/><path d="M510.70,1850.00 L491.35,1751.69 A100.2,100.2 0 0 1 504.21,1750.01 Z" fill="#8a8a8a" stroke="#8a8a8a" stroke-width="0.4"/><path d="M510.70,1850.00 L504.21,1750.01 A100.2,100.2 0 0 1 510.70,1749.80 Z" fill="#d9d9dc" stroke="#d9d9dc" stroke-width="0.4"/></svg>
<span class="t" style="left:446.81px;top:1699px;font-size:23.2px;line-height:26px;color:#111;transform:scaleX(1.0333);transform-origin:50% 0;">Guadalajara</span>
<svg style="left:0;top:0" width="700" height="2909"><path d="M180.50,2142.80 L180.50,2042.60 A100.2,100.2 0 0 1 268.41,2190.89 Z" fill="#0a9fc7" stroke="#0a9fc7" stroke-width="0.4"/><path d="M180.50,2142.80 L268.41,2190.89 A100.2,100.2 0 0 1 143.36,2235.86 Z" fill="#6ec4dc" stroke="#6ec4dc" stroke-width="0.4"/><path d="M180.50,2142.80 L143.36,2235.86 A100.2,100.2 0 0 1 86.81,2178.33 Z" fill="#d6edf3" stroke="#d6edf3" stroke-width="0.4"/><path d="M180.50,2142.80 L86.81,2178.33 A100.2,100.2 0 0 1 84.58,2171.78 Z" fill="#fdc800" stroke="#fdc800" stroke-width="0.4"/><path d="M180.50,2142.80 L84.58,2171.78 A100.2,100.2 0 0 1 82.81,2165.10 Z" fill="#fedc7a" stroke="#fedc7a" stroke-width="0.4"/><path d="M180.50,2142.80 L82.81,2165.10 A100.2,100.2 0 0 1 80.43,2137.61 Z" fill="#fff3d3" stroke="#fff3d3" stroke-width="0.4"/><path d="M180.50,2142.80 L80.43,2137.61 A100.2,100.2 0 0 1 90.99,2097.77 Z" fill="#ee8562" stroke="#ee8562" stroke-width="0.4"/><path d="M180.50,2142.80 L90.99,2097.77 A100.2,100.2 0 0 1 122.17,2061.33 Z" fill="#fbd4c3" stroke="#fbd4c3" stroke-width="0.4"/><path d="M180.50,2142.80 L122.17,2061.33 A100.2,100.2 0 0 1 146.59,2048.51 Z" fill="#000000" stroke="#000000" stroke-width="0.4"/><path d="M180.50,2142.80 L146.59,2048.51 A100.2,100.2 0 0 1 166.71,2043.55 Z" fill="#8a8a8a" stroke="#8a8a8a" stroke-width="0.4"/><path d="M180.50,2142.80 L166.71,2043.55 A100.2,100.2 0 0 1 180.50,2042.60 Z" fill="#d9d9dc" stroke="#d9d9dc" stroke-width="0.4"/></svg>
<span class="t" style="left:135.01px;top:1989px;font-size:23.2px;line-height:26px;color:#111;transform:scaleX(1.0461);transform-origin:50% 0;">Zapopan</span>
<svg style="left:0;top:0" width="700" height="2909"><path d="M507.60,2139.00 L507.60,2038.80 A100.2,100.2 0 0 1 553.70,2227.97 Z" fill="#0a9fc7" stroke="#0a9fc7" stroke-width="0.4"/><path d="M507.60,2139.00 L553.70,2227.97 A100.2,100.2 0 0 1 527.99,2237.10 Z" fill="#6ec4dc" stroke="#6ec4dc" stroke-width="0.4"/><path d="M507.60,2139.00 L527.99,2237.10 A100.2,100.2 0 0 1 521.24,2238.27 Z" fill="#d6edf3" stroke="#d6edf3" stroke-width="0.4"/><path d="M507.60,2139.00 L521.24,2238.27 A100.2,100.2 0 0 1 474.05,2233.41 Z" fill="#fdc800" stroke="#fdc800" stroke-width="0.4"/><path d="M507.60,2139.00 L474.05,2233.41 A100.2,100.2 0 0 1 439.21,2212.23 Z" fill="#fedc7a" stroke="#fedc7a" stroke-width="0.4"/><path d="M507.60,2139.00 L439.21,2212.23 A100.2,100.2 0 0 1 436.27,2209.37 Z" fill="#e2001a" stroke="#e2001a" stroke-width="0.4"/><path d="M507.60,2139.00 L436.27,2209.37 A100.2,100.2 0 0 1 413.19,2105.45 Z" fill="#ee8562" stroke="#ee8562" stroke-width="0.4"/><path d="M507.60,2139.00 L413.19,2105.45 A100.2,100.2 0 0 1 434.37,2070.61 Z" fill="#fbd4c3" stroke="#fbd4c3" stroke-width="0.4"/><path d="M507.60,2139.00 L434.37,2070.61 A100.2,100.2 0 0 1 474.05,2044.59 Z" fill="#000000" stroke="#000000" stroke-width="0.4"/><path d="M507.60,2139.00 L474.05,2044.59 A100.2,100.2 0 0 1 500.76,2039.03 Z" fill="#8a8a8a" stroke="#8a8a8a" stroke-width="0.4"/><path d="M507.60,2139.00 L500.76,2039.03 A100.2,100.2 0 0 1 507.60,2038.80 Z" fill="#d9d9dc" stroke="#d9d9dc" stroke-width="0.4"/></svg>
<span class="t" style="left:440.28px;top:1989px;font-size:23.2px;line-height:26px;color:#111;transform:scaleX(1.0433);transform-origin:50% 0;">Tlaquepaque</span>
<svg style="left:0;top:0" width="700" height="2909"><path d="M180.50,2434.20 L180.50,2334.00 A100.2,100.2 0 0 1 280.57,2439.28 Z" fill="#0a9fc7" stroke="#0a9fc7" stroke-width="0.4"/><path d="M180.50,2434.20 L280.57,2439.28 A100.2,100.2 0 0 1 216.88,2527.56 Z" fill="#6ec4dc" stroke="#6ec4dc" stroke-width="0.4"/><path d="M180.50,2434.20 L216.88,2527.56 A100.2,100.2 0 0 1 80.66,2425.75 Z" fill="#d6edf3" stroke="#d6edf3" stroke-width="0.4"/><path d="M180.50,2434.20 L80.66,2425.75 A100.2,100.2 0 0 1 82.71,2412.38 Z" fill="#fdc800" stroke="#fdc800" stroke-width="0.4"/><path d="M180.50,2434.20 L82.71,2412.38 A100.2,100.2 0 0 1 99.24,2375.58 Z" fill="#fedc7a" stroke="#fedc7a" stroke-width="0.4"/><path d="M180.50,2434.20 L99.24,2375.58 A100.2,100.2 0 0 1 107.88,2365.17 Z" fill="#fff3d3" stroke="#fff3d3" stroke-width="0.4"/><path d="M180.50,2434.20 L107.88,2365.17 A100.2,100.2 0 0 1 128.94,2348.28 Z" fill="#ee8562" stroke="#ee8562" stroke-width="0.4"/><path d="M180.50,2434.20 L128.94,2348.28 A100.2,100.2 0 0 1 147.29,2339.66 Z" fill="#fbd4c3" stroke="#fbd4c3" stroke-width="0.4"/><path d="M180.50,2434.20 L147.29,2339.66 A100.2,100.2 0 0 1 167.00,2334.91 Z" fill="#000000" stroke="#000000" stroke-width="0.4"/><path d="M180.50,2434.20 L167.00,2334.91 A100.2,100.2 0 0 1 173.74,2334.23 Z" fill="#8a8a8a" stroke="#8a8a8a" stroke-width="0.4"/><path d="M180.50,2434.20 L173.74,2334.23 A100.2,100.2 0 0 1 180.50,2334.00 Z" fill="#d9d9dc" stroke="#d9d9dc" stroke-width="0.4"/></svg>
<span class="t" style="left:148.02px;top:2287px;font-size:23.2px;line-height:26px;color:#111;transform:scaleX(1.0386);transform-origin:50% 0;">Tonalá</span>
<svg style="left:0;top:0" width="700" height="2909"><path d="M507.30,2434.20 L507.30,2334.00 A100.2,100.2 0 0 1 588.79,2375.90 Z" fill="#0a9fc7" stroke="#0a9fc7" stroke-width="0.4"/><path d="M507.30,2434.20 L588.79,2375.90 A100.2,100.2 0 0 1 606.90,2423.24 Z" fill="#6ec4dc" stroke="#6ec4dc" stroke-width="0.4"/><path d="M507.30,2434.20 L606.90,2423.24 A100.2,100.2 0 0 1 514.61,2534.13 Z" fill="#d6edf3" stroke="#d6edf3" stroke-width="0.4"/><path d="M507.30,2434.20 L514.61,2534.13 A100.2,100.2 0 0 1 471.51,2527.79 Z" fill="#fdc800" stroke="#fdc800" stroke-width="0.4"/><path d="M507.30,2434.20 L471.51,2527.79 A100.2,100.2 0 0 1 421.77,2382.00 Z" fill="#fedc7a" stroke="#fedc7a" stroke-width="0.4"/><path d="M507.30,2434.20 L421.77,2382.00 A100.2,100.2 0 0 1 425.81,2375.90 Z" fill="#fff3d3" stroke="#fff3d3" stroke-width="0.4"/><path d="M507.30,2434.20 L425.81,2375.90 A100.2,100.2 0 0 1 430.28,2370.10 Z" fill="#ee8562" stroke="#ee8562" stroke-width="0.4"/><path d="M507.30,2434.20 L430.28,2370.10 A100.2,100.2 0 0 1 446.06,2354.89 Z" fill="#fbd4c3" stroke="#fbd4c3" stroke-width="0.4"/><path d="M507.30,2434.20 L446.06,2354.89 A100.2,100.2 0 0 1 458.26,2346.82 Z" fill="#000000" stroke="#000000" stroke-width="0.4"/><path d="M507.30,2434.20 L458.26,2346.82 A100.2,100.2 0 0 1 507.30,2334.00 Z" fill="#d9d9dc" stroke="#d9d9dc" stroke-width="0.4"/></svg>
<span class="t" style="left:451.92px;top:2285px;font-size:23.2px;line-height:26px;color:#111;transform:scaleX(1.0699);transform-origin:50% 0;">Tlajomulco</span>
<span class="t" style="left:264.76px;top:1773px;font-size:13.3px;line-height:15px;color:#222;">27%</span>
<span class="t" style="left:263.79px;top:1911px;font-size:13.3px;line-height:15px;color:#222;">13%</span>
<span class="t" style="left:190.73px;top:1951px;font-size:13.3px;line-height:15px;color:#222;">11%</span>
<span class="t" style="left:107.02px;top:1935px;font-size:13.3px;line-height:15px;color:#222;">11%</span>
<span class="t" style="left:72.97px;top:1889px;font-size:13.3px;line-height:15px;color:#222;">6%</span>
<span class="t" style="left:61.84px;top:1845px;font-size:13.3px;line-height:15px;color:#222;">6%</span>
<span class="t" style="left:66.68px;top:1806px;font-size:13.3px;line-height:15px;color:#222;">5%</span>
<span class="t" style="left:81.20px;top:1778px;font-size:13.3px;line-height:15px;color:#222;">4%</span>
<span class="t" style="left:102.97px;top:1759px;font-size:13.3px;line-height:15px;color:#222;">4%</span>
<span class="t" style="left:127.16px;top:1742px;font-size:13.3px;line-height:15px;color:#222;">4%</span>
<span class="t" style="left:149.90px;top:1734px;font-size:13.3px;line-height:15px;color:#222;">2%</span>
<span class="t" style="left:170.71px;top:1734px;font-size:13.3px;line-height:15px;color:#222;">2%</span>
<span class="t" style="left:592.50px;top:1772px;font-size:13.3px;line-height:15px;color:#222;">26%</span>
<span class="t" style="left:603.14px;top:1888px;font-size:13.3px;line-height:15px;color:#222;">10%</span>
<span class="t" style="left:563.29px;top:1931px;font-size:13.3px;line-height:15px;color:#222;">6%</span>
<span class="t" style="left:452.17px;top:1945px;font-size:13.3px;line-height:15px;color:#222;">24%</span>
<span class="t" style="left:391.52px;top:1877px;font-size:13.3px;line-height:15px;color:#222;">4%</span>
<span class="t" style="left:385.40px;top:1821px;font-size:13.3px;line-height:15px;color:#222;">12%</span>
<span class="t" style="left:420.55px;top:1765px;font-size:13.3px;line-height:15px;color:#222;">7%</span>
<span class="t" style="left:444.74px;top:1746px;font-size:13.3px;line-height:15px;color:#222;">2%</span>
<span class="t" style="left:461.68px;top:1737px;font-size:13.3px;line-height:15px;color:#222;">3%</span>
<span class="t" style="left:482.00px;top:1734px;font-size:13.3px;line-height:15px;color:#222;">2%</span>
<span class="t" style="left:501.84px;top:1734px;font-size:13.3px;line-height:15px;color:#222;">1%</span>
<span class="t" style="left:271.05px;top:2083px;font-size:13.3px;line-height:15px;color:#222;">30%</span>
<span class="t" style="left:209.59px;top:2238px;font-size:13.3px;line-height:15px;color:#222;">21%</span>
<span class="t" style="left:85.72px;top:2211px;font-size:13.3px;line-height:15px;color:#222;">12%</span>
<span class="t" style="left:66.68px;top:2175px;font-size:13.3px;line-height:15px;color:#222;">1%</span>
<span class="t" style="left:61.84px;top:2163px;font-size:13.3px;line-height:15px;color:#222;">1%</span>
<span class="t" style="left:59.42px;top:2144px;font-size:13.3px;line-height:15px;color:#222;">4%</span>
<span class="t" style="left:61.84px;top:2112px;font-size:13.3px;line-height:15px;color:#222;">6%</span>
<span class="t" style="left:84.58px;top:2066px;font-size:13.3px;line-height:15px;color:#222;">7%</span>
<span class="t" style="left:123.29px;top:2037px;font-size:13.3px;line-height:15px;color:#222;">4%</span>
<span class="t" style="left:147.49px;top:2028px;font-size:13.3px;line-height:15px;color:#222;">3%</span>
<span class="t" style="left:170.71px;top:2024px;font-size:13.3px;line-height:15px;color:#222;">2%</span>
<span class="t" style="left:610.40px;top:2127px;font-size:13.3px;line-height:15px;color:#222;">39%</span>
<span class="t" style="left:540.07px;top:2233px;font-size:13.3px;line-height:15px;color:#222;">4%</span>
<span class="t" style="left:518.29px;top:2241px;font-size:13.3px;line-height:15px;color:#222;">1%</span>
<span class="t" style="left:489.26px;top:2241px;font-size:13.3px;line-height:15px;color:#222;">7%</span>
<span class="t" style="left:440.87px;top:2226px;font-size:13.3px;line-height:15px;color:#222;">6%</span>
<span class="t" style="left:422.00px;top:2210px;font-size:13.3px;line-height:15px;color:#222;">1%</span>
<span class="t" style="left:381.53px;top:2159px;font-size:13.3px;line-height:15px;color:#222;">16%</span>
<span class="t" style="left:398.78px;top:2074px;font-size:13.3px;line-height:15px;color:#222;">6%</span>
<span class="t" style="left:435.07px;top:2040px;font-size:13.3px;line-height:15px;color:#222;">7%</span>
<span class="t" style="left:473.78px;top:2023px;font-size:13.3px;line-height:15px;color:#222;">4%</span>
<span class="t" style="left:495.55px;top:2022px;font-size:13.3px;line-height:15px;color:#222;">1%</span>
<span class="t" style="left:261.37px;top:2354px;font-size:13.3px;line-height:15px;color:#222;">24%</span>
<span class="t" style="left:262.34px;top:2500px;font-size:13.3px;line-height:15px;color:#222;">17%</span>
<span class="t" style="left:92.98px;top:2516px;font-size:13.3px;line-height:15px;color:#222;">30%</span>
<span class="t" style="left:58.45px;top:2412px;font-size:13.3px;line-height:15px;color:#222;">2%</span>
<span class="t" style="left:69.10px;top:2384px;font-size:13.3px;line-height:15px;color:#222;">6%</span>
<span class="t" style="left:84.58px;top:2358px;font-size:13.3px;line-height:15px;color:#222;">2%</span>
<span class="t" style="left:100.55px;top:2340px;font-size:13.3px;line-height:15px;color:#222;">4%</span>
<span class="t" style="left:123.29px;top:2326px;font-size:13.3px;line-height:15px;color:#222;">3%</span>
<span class="t" style="left:140.71px;top:2319px;font-size:13.3px;line-height:15px;color:#222;">3%</span>
<span class="t" style="left:157.16px;top:2318px;font-size:13.3px;line-height:15px;color:#222;">1%</span>
<span class="t" style="left:174.58px;top:2318px;font-size:13.3px;line-height:15px;color:#222;">1%</span>
<span class="t" style="left:552.34px;top:2330px;font-size:13.3px;line-height:15px;color:#222;">13%</span>
<span class="t" style="left:604.42px;top:2388px;font-size:13.3px;line-height:15px;color:#222;">7%</span>
<span class="t" style="left:582.82px;top:2500px;font-size:13.3px;line-height:15px;color:#222;">22%</span>
<span class="t" style="left:487.32px;top:2535px;font-size:13.3px;line-height:15px;color:#222;">6%</span>
<span class="t" style="left:380.56px;top:2451px;font-size:13.3px;line-height:15px;color:#222;">24%</span>
<span class="t" style="left:391.52px;top:2375px;font-size:13.3px;line-height:15px;color:#222;">1%</span>
<span class="t" style="left:400.23px;top:2361px;font-size:13.3px;line-height:15px;color:#222;">1%</span>
<span class="t" style="left:418.13px;top:2349px;font-size:13.3px;line-height:15px;color:#222;">3%</span>
<span class="t" style="left:435.07px;top:2333px;font-size:13.3px;line-height:15px;color:#222;">2%</span>
<span class="t" style="left:473.78px;top:2319px;font-size:13.3px;line-height:15px;color:#222;">7%</span>
<span class="t" style="left:38.00px;top:2570px;font-size:14.8px;line-height:16px;color:#1a1a1a;transform:scaleX(0.9901);transform-origin:0 0;">(*)Se aplicaron 460 entrevistas del 1 al 5 de junio del 2019. El levantamiento fue en viviendas</span>
<span class="t" style="left:38.00px;top:2587px;font-size:14.8px;line-height:16px;color:#1a1a1a;transform:scaleX(1.0083);transform-origin:0 0;">de cinco municipios utilizando dispositivos móviles para la captura de la información.</span>
<div class="r" style="left:0.00px;top:2604.00px;width:700.00px;height:1.00px;background:#b0b0b0;"></div>
<span class="t" style="left:38.00px;top:2605px;font-size:14.8px;line-height:16px;color:#111;font-weight:700;transform:scaleX(1.0300);transform-origin:0 0;">Fuente:</span>
<span class="t" style="left:97.24px;top:2605px;font-size:14.8px;line-height:16px;color:#1a1a1a;transform:scaleX(0.9829);transform-origin:0 0;">Evaluación de Servicios Municipales realizada por Ice Mercadotecnia.</span>
<div class="r" style="left:21.30px;top:2641.00px;width:661.50px;height:14.00px;background:transparent;background:linear-gradient(to bottom,#d9d9d9 0,#e9e9e9 35%,#ffffff 100%);"></div>
<div class="r" style="left:288.50px;top:2672.00px;width:1.00px;height:155.00px;background:#f3f3f3;"></div>
<span class="t" style="left:36.00px;top:2649px;font-size:15.5px;line-height:17px;color:#222;transform:scaleX(0.7994);transform-origin:0 0;-webkit-text-stroke:0.25px #222;">Basura en el municipio de Guadalajara</span>
<span class="t" style="left:67.00px;top:2666px;font-size:15.5px;line-height:17px;color:#222;transform:scaleX(0.8168);transform-origin:0 0;-webkit-text-stroke:0.25px #222;">al año (miles de toneladas)</span>
<span class="t" style="left:346.50px;top:2649px;font-size:15.5px;line-height:17px;color:#222;transform:scaleX(0.7953);transform-origin:0 0;-webkit-text-stroke:0.25px #222;">Radiografía de la basura</span>
<span class="t" style="left:577.00px;top:2649px;font-size:15.5px;line-height:17px;color:#222;transform:scaleX(0.8347);transform-origin:0 0;-webkit-text-stroke:0.25px #222;">Recolectores</span>
<div class="r" style="left:30.30px;top:2708.80px;width:49.00px;height:94.20px;background:#0a9fc7;"></div>
<div class="r" style="left:90.00px;top:2719.40px;width:48.70px;height:83.60px;background:#0a9fc7;"></div>
<div class="r" style="left:150.00px;top:2719.40px;width:48.30px;height:83.60px;background:#0a9fc7;"></div>
<div class="r" style="left:208.00px;top:2765.00px;width:50.20px;height:38.00px;background:#e2001a;"></div>
<div class="r" style="left:21.30px;top:2802.60px;width:247.00px;height:2.10px;background:#111;"></div>
<span class="t" style="left:39.51px;top:2694px;font-size:12.3px;line-height:14px;color:#111;font-weight:700;transform:scaleX(1.0500);transform-origin:50% 0;">597.3</span>
<span class="t" style="left:98.51px;top:2705px;font-size:12.3px;line-height:14px;color:#111;font-weight:700;transform:scaleX(1.0500);transform-origin:50% 0;">531.2</span>
<span class="t" style="left:158.81px;top:2705px;font-size:12.3px;line-height:14px;color:#111;font-weight:700;transform:scaleX(1.0500);transform-origin:50% 0;">531.5</span>
<span class="t" style="left:204.00px;top:2726px;font-size:23.5px;line-height:26px;color:#111;font-weight:700;transform:scaleX(0.8843);transform-origin:50% 0;">242.2</span>
<span class="t" style="left:197.99px;top:2750px;font-size:11.5px;line-height:12px;color:#222;transform:scaleX(0.7969);transform-origin:50% 0;-webkit-text-stroke:0.25px #222;">(enero-mayo)</span>
<span class="t" style="left:42.41px;top:2806px;font-size:11.5px;line-height:12px;color:#222;transform:scaleX(0.8600);transform-origin:50% 0;-webkit-text-stroke:0.25px #222;">2016</span>
<span class="t" style="left:100.61px;top:2806px;font-size:11.5px;line-height:12px;color:#222;transform:scaleX(0.8600);transform-origin:50% 0;-webkit-text-stroke:0.25px #222;">2017</span>
<span class="t" style="left:160.91px;top:2806px;font-size:11.5px;line-height:12px;color:#222;transform:scaleX(0.8600);transform-origin:50% 0;-webkit-text-stroke:0.25px #222;">2018</span>
<span class="t" style="left:219.61px;top:2806px;font-size:11.5px;line-height:12px;color:#222;transform:scaleX(0.8600);transform-origin:50% 0;-webkit-text-stroke:0.25px #222;">2019</span>
<div class="r" style="left:0.00px;top:2827.50px;width:700.00px;height:1.00px;background:#cfcfcf;"></div>
<span class="t" style="left:21.30px;top:2833px;font-size:14.8px;line-height:16px;color:#111;font-weight:700;transform:scaleX(1.0300);transform-origin:0 0;">Fuente:</span>
<span class="t" style="left:80.54px;top:2833px;font-size:14.8px;line-height:16px;color:#1a1a1a;transform:scaleX(0.9552);transform-origin:0 0;">ayuntamiento de Guadalajara</span>
<div class="r" style="left:299.20px;top:2682.50px;width:54.10px;height:59.30px;background:#0a9fc7;"></div>
<div class="r" style="left:383.30px;top:2682.50px;width:54.30px;height:59.30px;background:#0a9fc7;"></div>
<div class="r" style="left:467.50px;top:2682.50px;width:54.50px;height:59.30px;background:#0a9fc7;"></div>
<div class="r" style="left:359.50px;top:2704.50px;width:17.70px;height:5.00px;background:#111;"></div>
<div class="r" style="left:359.50px;top:2714.50px;width:17.70px;height:5.00px;background:#111;"></div>
<span class="t" style="left:298.42px;top:2747px;font-size:23px;line-height:26px;color:#111;font-weight:700;transform:scaleX(0.8341);transform-origin:50% 0;">1,614</span>
<span class="t" style="left:391.51px;top:2747px;font-size:23px;line-height:26px;color:#111;font-weight:700;transform:scaleX(0.9252);transform-origin:50% 0;">202</span>
<span class="t" style="left:454.07px;top:2747px;font-size:23px;line-height:26px;color:#111;font-weight:700;transform:scaleX(0.8795);transform-origin:50% 0;">211,504</span>
<span class="t" style="left:299.20px;top:2776px;font-size:12.5px;line-height:14px;color:#484848;transform:scaleX(0.9500);transform-origin:50% 0;">toneladas</span>
<span class="t" style="left:298.50px;top:2791px;font-size:12.5px;line-height:14px;color:#484848;transform:scaleX(0.9500);transform-origin:50% 0;">de basura</span>
<span class="t" style="left:306.15px;top:2805px;font-size:12.5px;line-height:14px;color:#484848;transform:scaleX(0.9500);transform-origin:50% 0;">diarias.</span>
<span class="t" style="left:384.05px;top:2776px;font-size:12.5px;line-height:14px;color:#484848;transform:scaleX(0.9500);transform-origin:50% 0;">camiones</span>
<span class="t" style="left:388.57px;top:2791px;font-size:12.5px;line-height:14px;color:#484848;transform:scaleX(0.9500);transform-origin:50% 0;">recolec-</span>
<span class="t" style="left:395.17px;top:2805px;font-size:12.5px;line-height:14px;color:#484848;transform:scaleX(0.9500);transform-origin:50% 0;">tores.</span>
<span class="t" style="left:459.01px;top:2776px;font-size:12.5px;line-height:14px;color:#484848;transform:scaleX(0.8871);transform-origin:50% 0;">toneladas de</span>
<span class="t" style="left:445.47px;top:2791px;font-size:12.5px;line-height:14px;color:#484848;transform:scaleX(0.9021);transform-origin:50% 0;">basura doméstica</span>
<span class="t" style="left:446.16px;top:2805px;font-size:12.5px;line-height:14px;color:#484848;transform:scaleX(0.8584);transform-origin:50% 0;">de enero a mayo.</span>
<svg style="left:0;top:0" width="700" height="2909"><g transform="translate(614.8,2758.1) scale(1,0.99)"><circle cx="0" cy="0" r="50.6" fill="none" stroke="#e2001a" stroke-width="18.8"/><circle cx="0" cy="0" r="50.6" fill="none" stroke="#0a9fc7" stroke-width="18.8" stroke-dasharray="99.28 317.93" transform="rotate(-90)"/></g><path d="M592.9,2695.5 V2702 M627,2695.5 V2702" stroke="#111" stroke-width="1.2" fill="none"/></svg>
<span class="t" style="left:567.50px;top:2670px;font-size:12.5px;line-height:14px;color:#555;transform:scaleX(0.8008);transform-origin:0 0;">Caabsa</span>
<span class="t" style="left:617.00px;top:2670px;font-size:12.5px;line-height:14px;color:#555;transform:scaleX(0.8018);transform-origin:0 0;">Aseo Público</span>
<span class="t" style="left:582.04px;top:2682px;font-size:12.3px;line-height:14px;color:#111;font-weight:700;">980</span>
<span class="t" style="left:617.84px;top:2682px;font-size:12.3px;line-height:14px;color:#111;font-weight:700;">445</span>
<span class="t" style="left:596.28px;top:2727px;font-size:15.5px;line-height:17px;color:#222;transform:scaleX(0.7693);transform-origin:50% 0;-webkit-text-stroke:0.2px #222;">Total:</span>
<span class="t" style="left:586.72px;top:2745px;font-size:23px;line-height:26px;color:#111;font-weight:700;transform:scaleX(0.8427);transform-origin:50% 0;">1,425</span>
<span class="t" style="left:582.57px;top:2768px;font-size:14.5px;line-height:16px;color:#111;font-weight:700;transform:scaleX(0.8066);transform-origin:50% 0;">personas</span>
<svg style="left:0;top:0" width="700" height="2909" viewBox="0 0 700 2909"><g transform="translate(295,2675) scale(0.25)" fill="#fff" stroke="none"><path d="M35,212 Q28,195 45,188 Q48,170 68,172 Q78,152 100,158 Q118,140 140,152 Q150,138 165,142 L172,150 Q190,150 192,168 Q210,172 208,190 Q222,198 214,212 Z"/>
<path d="M48,165 q-8,-10 0,-20 q8,-10 0,-20" fill="none" stroke="#fff" stroke-width="4"/>
<path d="M95,135 q-8,-10 0,-20 q8,-10 0,-20" fill="none" stroke="#fff" stroke-width="4"/>
<path d="M135,130 q-8,-9 0,-18 q8,-9 0,-18" fill="none" stroke="#fff" stroke-width="4"/>
<path d="M186,150 q-7,-8 0,-16 q7,-8 0,-16" fill="none" stroke="#fff" stroke-width="4"/>
<path d="M74,72 q8,-4 14,4 q6,-12 16,-10" fill="none" stroke="#fff" stroke-width="4"/>
<path d="M162,98 q8,-4 14,4 q6,-12 16,-10" fill="none" stroke="#fff" stroke-width="4"/></g></svg>
<svg style="left:0;top:0" width="700" height="2909" viewBox="0 0 700 2909"><g transform="translate(295,2675) scale(0.25)" fill="#fff" stroke="none"><path d="M432,100 H530 Q546,100 548,116 L552,170 Q552,180 542,180 H432 Z"/>
<path d="M508,104 Q528,140 520,178" fill="none" stroke="#0a9fc7" stroke-width="3"/>
<path d="M392,108 H426 V180 H372 V160 Q372,150 378,146 Z"/>
<path d="M397,116 H418 V142 H386 Z" fill="#0a9fc7"/>
<circle cx="403" cy="184" r="15" fill="#0a9fc7"/><circle cx="403" cy="184" r="11"/><circle cx="403" cy="184" r="4.5" fill="#0a9fc7"/>
<circle cx="462" cy="184" r="15" fill="#0a9fc7"/><circle cx="462" cy="184" r="11"/><circle cx="462" cy="184" r="4.5" fill="#0a9fc7"/>
<circle cx="512" cy="184" r="15" fill="#0a9fc7"/><circle cx="512" cy="184" r="11"/><circle cx="512" cy="184" r="4.5" fill="#0a9fc7"/></g></svg>
<svg style="left:0;top:0" width="700" height="2909" viewBox="0 0 700 2909"><g transform="translate(440,2675) scale(0.25)" fill="#fff" stroke="none"><g transform="translate(5,5) rotate(15 185 145)"><rect x="176" y="42" width="20" height="14" rx="3"/>
<path d="M178,58 H194 V72 Q212,90 212,112 V222 Q212,236 198,236 H174 Q160,236 160,222 V112 Q160,90 178,72 Z"/>
<rect x="167" y="142" width="38" height="48" fill="#0a9fc7"/></g>
<g transform="rotate(-9 268 185)"><path d="M260,116 H274 V160 Q286,172 286,188 V240 Q286,248 278,248 H256 Q248,248 248,240 V188 Q248,172 260,160 Z"/>
<rect x="254" y="196" width="22" height="32" fill="#0a9fc7"/></g></g></svg>
</body></html>
